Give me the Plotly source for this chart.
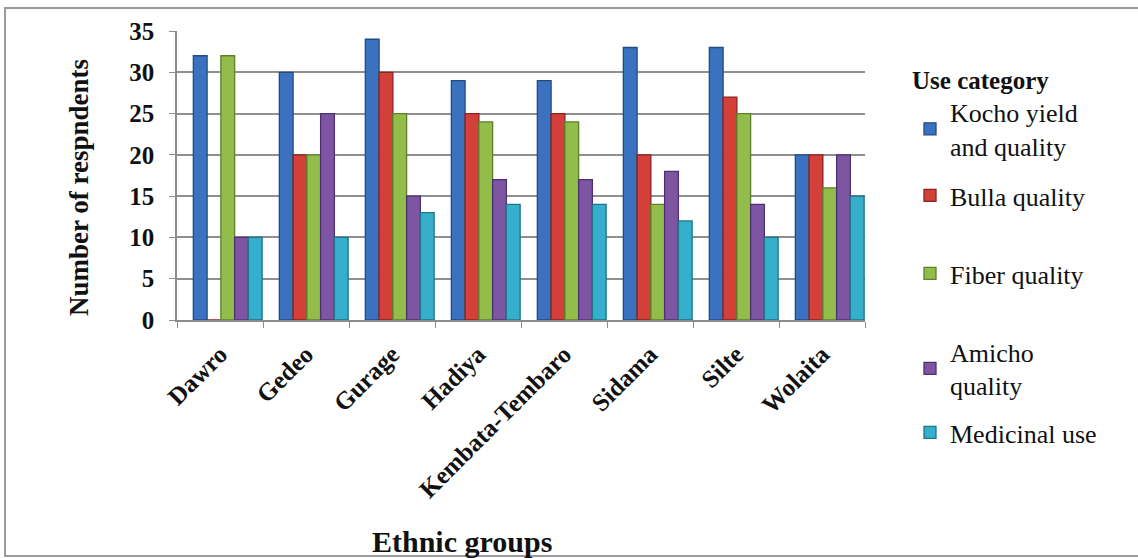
import plotly.graph_objects as go

# Ethnic groups on the x axis
groups = ["Dawro", "Gedeo", "Gurage", "Hadiya", "Kembata-Tembaro",
          "Sidama", "Silte", "Wolaita"]

# Respondent counts per use category
kocho_yield = [32, 30, 34, 29, 29, 33, 33, 20]
bulla_quality = [0, 20, 30, 25, 25, 20, 27, 20]
fiber_quality = [32, 20, 25, 24, 24, 14, 25, 16]
amicho_quality = [10, 25, 15, 17, 17, 18, 14, 20]
medicinal_use = [10, 10, 13, 14, 14, 12, 10, 15]

series_names = ["Kocho yield<br>and quality", "Bulla quality", "Fiber quality",
                "Amicho<br>quality", "Medicinal use"]
series_values = [kocho_yield, bulla_quality, fiber_quality, amicho_quality, medicinal_use]
y_ticks = [0, 5, 10, 15, 20, 25, 30, 35]

colors = ["#3b72c0", "#d3403a", "#92bd4b", "#7d55a3", "#35afcb"]
edges = ["#234a85", "#8c2320", "#5f7f2c", "#4e3270", "#1f7488"]

# page geometry (pixels)
W, H = 1138, 558
L, R, T, B = 177, 273, 31, 238
plot_w = W - L - R
plot_h = H - T - B


def px_x(p):
    return (p - L) / plot_w


def px_y(p):
    return (H - B - p) / plot_h


serif = "'Liberation Serif', 'Times New Roman', serif"
ink = "#111111"

# each cluster sits slightly right of its category centre
bar_w = 0.16
cluster_start = -0.31

fig = go.Figure()
legend_ids = ["legend", "legend2", "legend3", "legend4", "legend5"]
for i, (name, vals, c, e, lg) in enumerate(zip(series_names, series_values, colors, edges, legend_ids)):
    fig.add_trace(go.Bar(
        x=groups, y=vals, name=name,
        width=bar_w, offset=cluster_start + i * bar_w,
        marker=dict(color=c, line=dict(color=e, width=1.3)),
        legend=lg,
    ))

legend_font = dict(family=serif, size=26, color=ink)
legend_common = dict(
    x=px_x(910), xanchor="left", yanchor="top",
    bgcolor="rgba(0,0,0,0)", font=legend_font,
    itemwidth=30, tracegroupgap=0,
)
legend_tops = [56, 172, 250, 328, 409]

layout_legends = {}
for i, (lg, top) in enumerate(zip(legend_ids, legend_tops)):
    cfg = dict(legend_common, y=px_y(top))
    if i == 0:
        cfg["title"] = dict(text="<b>Use category</b>",
                            font=dict(family=serif, size=25, color=ink))
    layout_legends[lg] = cfg

fig.update_layout(
    width=W, height=H,
    margin=dict(l=L, r=R, t=T, b=B),
    paper_bgcolor="white", plot_bgcolor="white",
    barmode="overlay",
    showlegend=True,
    xaxis=dict(
        tickangle=-45, tickson="boundaries",
        tickfont=dict(family=serif, size=25, color=ink, weight="bold"),
        ticklabelstandoff=8,
        showline=True, linecolor="#8c8c8c", linewidth=1.5,
        ticks="outside", ticklen=6, tickcolor="#8c8c8c",
        showgrid=False,
    ),
    yaxis=dict(
        range=[0, 35], tickvals=y_ticks,
        tickfont=dict(family=serif, size=25, color=ink, weight="bold"),
        ticklabelstandoff=10,
        showline=True, linecolor="#8c8c8c", linewidth=1.5,
        ticks="outside", ticklen=6, tickcolor="#8c8c8c",
        gridcolor="#8f8f8f", gridwidth=1.5,
        zeroline=False,
    ),
    annotations=[
        dict(text="<b>Number of respndents</b>", xref="paper", yref="paper",
             x=px_x(79), y=px_y(188), xanchor="center", yanchor="middle",
             textangle=-90, showarrow=False,
             font=dict(family=serif, size=27, color=ink)),
        dict(text="<b>Ethnic groups</b>", xref="paper", yref="paper",
             x=px_x(462), y=px_y(541), xanchor="center", yanchor="middle",
             showarrow=False, font=dict(family=serif, size=30, color=ink)),
    ],
    shapes=[dict(
        type="rect", xref="paper", yref="paper",
        x0=px_x(5), x1=px_x(1145), y0=px_y(556), y1=px_y(8),
        line=dict(color="#9a9a9a", width=2), layer="below",
    )],
    **layout_legends,
)

fig.write_html("out.html")
